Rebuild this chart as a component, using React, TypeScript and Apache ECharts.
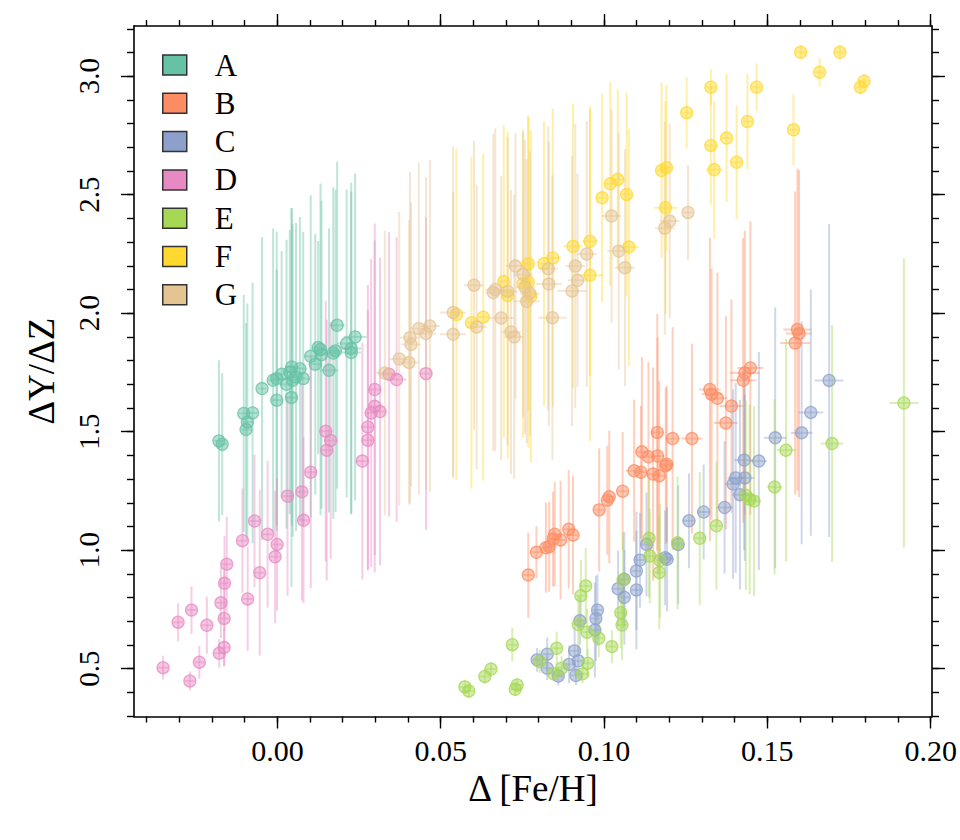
import React, { useEffect, useRef } from "react";
import * as echarts from "echarts";

// ---------- data: [x, y, xerr, yerr] ----------
const GROUPS = ["A", "B", "C", "D", "E", "F", "G"];
const COLORS = ["#66c2a5", "#fc8d62", "#8da0cb", "#e78ac3", "#a6d854", "#ffd92f", "#e5c494"];

const groupA = [
  [-0.0179, 1.461, 0.0015, 0.34], [-0.0169, 1.447, 0.0015, 0.30], [-0.0103, 1.577, 0.0015, 0.50],
  [-0.0076, 1.579, 0.0015, 0.55], [-0.0092, 1.541, 0.0015, 0.50], [-0.0096, 1.509, 0.0015, 0.45],
  [-0.0047, 1.682, 0.0012, 0.64], [-0.0013, 1.717, 0.0015, 0.64], [-0.0002, 1.724, 0.0015, 0.62],
  [-0.0002, 1.633, 0.0015, 0.55], [0.0013, 1.742, 0.0015, 0.52], [0.0028, 1.700, 0.002, 0.61],
  [0.0038, 1.752, 0.002, 0.60], [0.0043, 1.644, 0.002, 0.80], [0.0044, 1.773, 0.002, 0.67],
  [0.0047, 1.717, 0.002, 0.66], [0.0057, 1.731, 0.002, 0.65], [0.0069, 1.766, 0.002, 0.64],
  [0.0079, 1.724, 0.002, 0.62], [0.0102, 1.818, 0.002, 0.68], [0.0116, 1.785, 0.002, 0.55],
  [0.0125, 1.855, 0.002, 0.45], [0.0132, 1.847, 0.002, 0.70], [0.0135, 1.825, 0.002, 0.65],
  [0.0158, 1.759, 0.0028, 0.60], [0.0171, 1.832, 0.002, 0.70], [0.0178, 1.841, 0.002, 0.68],
  [0.0183, 1.949, 0.0023, 0.69], [0.0212, 1.872, 0.003, 0.65], [0.0226, 1.851, 0.003, 0.70],
  [0.0226, 1.834, 0.003, 0.68], [0.0238, 1.900, 0.0035, 0.69],
];

const groupB = [
  [0.0768, 0.895, 0.0015, 0.18], [0.0793, 0.991, 0.0015, 0.11], [0.0822, 1.010, 0.0015, 0.19],
  [0.0832, 1.014, 0.0015, 0.19], [0.0844, 1.047, 0.0015, 0.20], [0.0849, 1.067, 0.0015, 0.22],
  [0.0867, 1.043, 0.0015, 0.25], [0.0892, 1.088, 0.0015, 0.25], [0.0905, 1.064, 0.0015, 0.25],
  [0.0985, 1.170, 0.0015, 0.26], [0.1010, 1.211, 0.0015, 0.23], [0.1016, 1.225, 0.0015, 0.28],
  [0.1057, 1.249, 0.0015, 0.25], [0.1092, 1.335, 0.0025, 0.30], [0.1113, 1.329, 0.002, 0.28],
  [0.1116, 1.415, 0.002, 0.40], [0.1136, 1.394, 0.002, 0.40], [0.1150, 1.321, 0.002, 0.45],
  [0.1169, 1.314, 0.002, 0.40], [0.1164, 1.397, 0.002, 0.50], [0.1163, 1.497, 0.002, 0.50],
  [0.1189, 1.356, 0.002, 0.33], [0.1192, 1.363, 0.002, 0.33], [0.1210, 1.471, 0.0023, 0.47],
  [0.1269, 1.471, 0.0032, 0.40], [0.1324, 1.678, 0.0033, 0.64], [0.1329, 1.658, 0.003, 0.53],
  [0.1347, 1.641, 0.003, 0.53], [0.1390, 1.608, 0.0035, 0.45], [0.1373, 1.537, 0.0036, 0.45],
  [0.1426, 1.717, 0.004, 0.60], [0.1431, 1.748, 0.0046, 0.60], [0.1448, 1.769, 0.004, 0.62],
  [0.1585, 1.874, 0.0046, 0.64], [0.1592, 1.931, 0.0043, 0.68], [0.1597, 1.914, 0.004, 0.69],
];

const groupC = [
  [0.0795, 0.537, 0.0015, 0.05], [0.0826, 0.561, 0.0015, 0.07], [0.0826, 0.502, 0.0015, 0.05],
  [0.0860, 0.469, 0.0015, 0.04], [0.0893, 0.518, 0.0015, 0.08], [0.0910, 0.575, 0.0015, 0.10],
  [0.0921, 0.533, 0.0015, 0.06], [0.0914, 0.471, 0.0015, 0.04], [0.0926, 0.702, 0.0015, 0.10],
  [0.0972, 0.663, 0.0015, 0.20], [0.0975, 0.712, 0.0015, 0.18], [0.0980, 0.747, 0.0015, 0.15],
  [0.1043, 0.837, 0.0015, 0.16], [0.1062, 0.877, 0.0015, 0.20], [0.1062, 0.801, 0.0015, 0.20],
  [0.1099, 0.912, 0.0015, 0.25], [0.1099, 0.832, 0.0015, 0.25], [0.1110, 0.958, 0.0015, 0.20],
  [0.1130, 1.024, 0.0015, 0.22], [0.1187, 0.968, 0.002, 0.20], [0.1193, 0.962, 0.002, 0.22],
  [0.1227, 1.024, 0.002, 0.25], [0.1260, 1.124, 0.002, 0.20], [0.1305, 1.161, 0.002, 0.20],
  [0.1369, 1.180, 0.0025, 0.28], [0.1395, 1.279, 0.0025, 0.40], [0.1403, 1.305, 0.0025, 0.40],
  [0.1431, 1.305, 0.003, 0.35], [0.1416, 1.234, 0.0025, 0.40], [0.1429, 1.380, 0.003, 0.38],
  [0.1474, 1.376, 0.0025, 0.46], [0.1524, 1.474, 0.0035, 0.55], [0.1605, 1.495, 0.0033, 0.47],
  [0.1633, 1.581, 0.0038, 0.52], [0.1689, 1.716, 0.0044, 0.66],
];

const groupD = [
  [-0.0350, 0.504, 0.0015, 0.05], [-0.0268, 0.448, 0.0015, 0.04], [-0.0304, 0.696, 0.0015, 0.08],
  [-0.0263, 0.747, 0.0015, 0.10], [-0.0239, 0.527, 0.0015, 0.07], [-0.0216, 0.683, 0.0015, 0.12],
  [-0.0178, 0.565, 0.0015, 0.06], [-0.0163, 0.589, 0.0015, 0.08], [-0.0163, 0.712, 0.0015, 0.20],
  [-0.0173, 0.778, 0.0015, 0.15], [-0.0162, 0.860, 0.0015, 0.20], [-0.0155, 0.941, 0.0015, 0.20],
  [-0.0091, 0.794, 0.0015, 0.22], [-0.0107, 1.040, 0.0015, 0.22], [-0.0070, 1.123, 0.0015, 0.28],
  [-0.0054, 0.905, 0.0015, 0.35], [-0.0030, 1.067, 0.0015, 0.31], [-0.0001, 1.024, 0.0015, 0.28],
  [-0.0007, 0.972, 0.0015, 0.28], [0.0031, 1.228, 0.0015, 0.42], [0.0075, 1.246, 0.0015, 0.46],
  [0.0080, 1.126, 0.0015, 0.35], [0.0102, 1.329, 0.0015, 0.49], [0.0148, 1.502, 0.002, 0.55],
  [0.0163, 1.463, 0.002, 0.50], [0.0151, 1.422, 0.002, 0.55], [0.0260, 1.376, 0.002, 0.50],
  [0.0277, 1.464, 0.002, 0.55], [0.0277, 1.520, 0.002, 0.60], [0.0287, 1.579, 0.002, 0.65],
  [0.0298, 1.607, 0.002, 0.70], [0.0314, 1.585, 0.002, 0.65], [0.0298, 1.678, 0.002, 0.70],
  [0.0365, 1.720, 0.003, 0.60], [0.0342, 1.742, 0.003, 0.60], [0.0455, 1.745, 0.002, 0.66],
];

const groupE = [
  [0.0574, 0.423, 0.0015, 0.03], [0.0586, 0.406, 0.0015, 0.03], [0.0635, 0.467, 0.0015, 0.03],
  [0.0654, 0.498, 0.0015, 0.03], [0.0719, 0.601, 0.0015, 0.07], [0.0728, 0.413, 0.0015, 0.03],
  [0.0734, 0.431, 0.0015, 0.03], [0.0803, 0.530, 0.0015, 0.05], [0.0855, 0.586, 0.0015, 0.07],
  [0.0846, 0.478, 0.0015, 0.03], [0.0870, 0.502, 0.0015, 0.05], [0.0934, 0.478, 0.0015, 0.04],
  [0.0950, 0.523, 0.0015, 0.06], [0.0921, 0.686, 0.0015, 0.12], [0.0948, 0.654, 0.0015, 0.10],
  [0.0984, 0.628, 0.0015, 0.08], [0.0929, 0.808, 0.0015, 0.15], [0.0944, 0.849, 0.0015, 0.16],
  [0.1024, 0.593, 0.0015, 0.07], [0.1051, 0.736, 0.0015, 0.15], [0.1055, 0.684, 0.0015, 0.15],
  [0.1058, 0.874, 0.0015, 0.20], [0.1138, 1.050, 0.0015, 0.25], [0.1140, 0.975, 0.0015, 0.20],
  [0.1169, 0.906, 0.0015, 0.24], [0.1171, 0.956, 0.0015, 0.24], [0.1225, 1.031, 0.0015, 0.28],
  [0.1293, 1.050, 0.0015, 0.28], [0.1344, 1.103, 0.0015, 0.27], [0.1434, 1.232, 0.002, 0.40],
  [0.1446, 1.215, 0.002, 0.40], [0.1459, 1.207, 0.002, 0.40], [0.1522, 1.267, 0.0023, 0.37],
  [0.1557, 1.422, 0.0028, 0.47], [0.1698, 1.450, 0.0034, 0.50], [0.1918, 1.621, 0.0045, 0.61],
];

const groupF = [
  [0.0548, 1.995, 0.0011, 0.70], [0.0594, 1.960, 0.0012, 0.70], [0.0630, 1.983, 0.0015, 0.69],
  [0.0693, 2.134, 0.0015, 0.66], [0.0705, 2.075, 0.0015, 0.69], [0.0752, 2.125, 0.0015, 0.65],
  [0.0768, 2.209, 0.0015, 0.62], [0.0768, 2.132, 0.0015, 0.70], [0.0776, 2.071, 0.0015, 0.70],
  [0.0816, 2.209, 0.0015, 0.60], [0.0843, 2.233, 0.0025, 0.63], [0.0905, 2.282, 0.0029, 0.60],
  [0.0957, 2.304, 0.0025, 0.57], [0.0957, 2.160, 0.004, 0.70], [0.0994, 2.487, 0.0015, 0.44],
  [0.1019, 2.546, 0.0015, 0.43], [0.1042, 2.564, 0.0015, 0.38], [0.1069, 2.501, 0.0015, 0.43],
  [0.1076, 2.279, 0.003, 0.50], [0.1176, 2.602, 0.0015, 0.37], [0.1191, 2.614, 0.0015, 0.35],
  [0.1188, 2.445, 0.0036, 0.45], [0.1253, 2.846, 0.0015, 0.15], [0.1327, 2.954, 0.0015, 0.075],
  [0.1467, 2.954, 0.0015, 0.10], [0.1327, 2.708, 0.002, 0.25], [0.1337, 2.605, 0.0025, 0.29],
  [0.1375, 2.739, 0.0015, 0.27], [0.1406, 2.637, 0.002, 0.24], [0.1439, 2.809, 0.0015, 0.20],
  [0.1580, 2.774, 0.0015, 0.15], [0.1602, 3.101, 0.0015, 0.03], [0.1722, 3.101, 0.0015, 0.03],
  [0.1660, 3.017, 0.0015, 0.06], [0.1785, 2.954, 0.0015, 0.03], [0.1796, 2.979, 0.0015, 0.03],
];

const groupG = [
  [0.0329, 1.748, 0.003, 0.60], [0.0373, 1.807, 0.003, 0.62], [0.0403, 1.792, 0.003, 0.60],
  [0.0406, 1.897, 0.003, 0.70], [0.0409, 1.868, 0.003, 0.60], [0.0433, 1.935, 0.003, 0.70],
  [0.0455, 1.914, 0.003, 0.66], [0.0467, 1.946, 0.003, 0.70], [0.0538, 2.003, 0.004, 0.70],
  [0.0538, 1.911, 0.004, 0.60], [0.0602, 2.118, 0.003, 0.61], [0.0610, 1.942, 0.003, 0.60],
  [0.0661, 2.087, 0.0025, 0.67], [0.0667, 2.100, 0.003, 0.68], [0.0685, 1.980, 0.004, 0.60],
  [0.0705, 2.092, 0.003, 0.65], [0.0715, 1.921, 0.003, 0.60], [0.0725, 1.900, 0.003, 0.60],
  [0.0729, 2.199, 0.003, 0.56], [0.0752, 2.163, 0.003, 0.60], [0.0758, 2.110, 0.003, 0.62],
  [0.0773, 2.083, 0.003, 0.60], [0.0763, 2.050, 0.004, 0.60], [0.0829, 2.188, 0.003, 0.60],
  [0.0831, 2.123, 0.004, 0.60], [0.0842, 1.981, 0.0043, 0.60], [0.0902, 2.094, 0.0045, 0.57],
  [0.0912, 2.199, 0.003, 0.60], [0.0919, 2.139, 0.003, 0.45], [0.0947, 2.250, 0.003, 0.56],
  [0.1023, 2.410, 0.003, 0.45], [0.1045, 2.262, 0.0035, 0.50], [0.1064, 2.192, 0.003, 0.50],
  [0.1201, 2.389, 0.003, 0.41], [0.1186, 2.359, 0.003, 0.45], [0.1257, 2.425, 0.0015, 0.20],
];

const GROUP_DATA = [groupA, groupB, groupC, groupD, groupE, groupF, groupG];

// ---------- axes ----------
const X_MIN = -0.0439;
const X_MAX = 0.2004;
const Y_MIN = 0.298;
const Y_MAX = 3.212;
const X_MAJOR = [0.0, 0.05, 0.1, 0.15, 0.2];
const X_MINOR = [-0.04, -0.03, -0.02, -0.01, 0.0, 0.01, 0.02, 0.03, 0.04, 0.05, 0.06, 0.07, 0.08,
  0.09, 0.1, 0.11, 0.12, 0.13, 0.14, 0.15, 0.16, 0.17, 0.18, 0.19, 0.2];
const Y_MAJOR = [0.5, 1.0, 1.5, 2.0, 2.5, 3.0];
const Y_MINOR = [0.3, 0.4, 0.5, 0.6, 0.7, 0.8, 0.9, 1.0, 1.1, 1.2, 1.3, 1.4, 1.5, 1.6, 1.7, 1.8,
  1.9, 2.0, 2.1, 2.2, 2.3, 2.4, 2.5, 2.6, 2.7, 2.8, 2.9, 3.0, 3.1, 3.2];

const FONT = "'Liberation Serif', 'Times New Roman', Times, serif";

function rgba(hex: string, a: number) {
  const n = parseInt(hex.slice(1), 16);
  return `rgba(${(n >> 16) & 255},${(n >> 8) & 255},${n & 255},${a})`;
}

function makeAxis(kind: "x" | "y", position: string, major: boolean, showLine: boolean, extra: any = {}) {
  const isX = kind === "x";
  return {
    type: "value",
    position,
    min: isX ? X_MIN : Y_MIN,
    max: isX ? X_MAX : Y_MAX,
    axisLine: { show: showLine, onZero: false, lineStyle: { color: "#000", width: 1.6 } },
    axisTick: {
      show: true,
      inside: false,
      length: major ? (isX ? 12 : 13) : isX ? 6 : 7,
      customValues: major ? (isX ? X_MAJOR : Y_MAJOR) : isX ? X_MINOR : Y_MINOR,
      lineStyle: { color: "#000", width: 1.4 },
    },
    axisLabel: { show: false },
    splitLine: { show: false },
    ...extra,
  };
}

export default function App() {
  const ref = useRef<HTMLDivElement>(null);

  useEffect(() => {
    if (!ref.current) return;
    const chart = echarts.init(ref.current, undefined, { renderer: "svg" });

    const series: any[] = [];
    GROUPS.forEach((g, i) => {
      const col = COLORS[i];
      series.push({
        name: g,
        type: "custom",
        xAxisIndex: 0,
        yAxisIndex: 0,
        clip: true,
        silent: true,
        encode: { x: 0, y: 1 },
        data: GROUP_DATA[i],
        renderItem: (params: any, api: any) => {
          const x = api.value(0);
          const y = api.value(1);
          const ex = api.value(2);
          const ey = api.value(3);
          const a = api.coord([x, y - ey]);
          const b = api.coord([x, y + ey]);
          const c = api.coord([x - ex, y]);
          const d = api.coord([x + ex, y]);
          const style = { stroke: rgba(col, 0.42), lineWidth: 2 };
          return {
            type: "group",
            children: [
              { type: "line", shape: { x1: a[0], y1: a[1], x2: b[0], y2: b[1] }, style },
              { type: "line", shape: { x1: c[0], y1: c[1], x2: d[0], y2: d[1] }, style },
            ],
          };
        },
      });
      series.push({
        name: g,
        type: "scatter",
        xAxisIndex: 0,
        yAxisIndex: 0,
        symbol: "circle",
        symbolSize: 12,
        data: GROUP_DATA[i].map((p) => [p[0], p[1]]),
        itemStyle: { color: rgba(col, 0.6), borderColor: rgba(col, 0.95), borderWidth: 1.3 },
        emphasis: { disabled: true },
      });
    });

    chart.setOption({
      animation: false,
      backgroundColor: "#ffffff",
      grid: { left: 134, top: 26, width: 798, height: 690.5, containLabel: false },
      legend: {
        orient: "vertical",
        left: 162,
        top: 49.5,
        padding: 0,
        itemWidth: 24,
        itemHeight: 20,
        itemGap: 7.3,
        icon: "rect",
        selectedMode: false,
        data: GROUPS.map((g, i) => ({
          name: g,
          itemStyle: { color: COLORS[i], borderColor: "#333", borderWidth: 1.5, opacity: 1 },
        })),
        textStyle: { fontSize: 31, fontFamily: FONT, color: "#000", padding: [0, 0, 0, 23] },
      },
      xAxis: [
        makeAxis("x", "bottom", true, true, {
          axisLabel: {
            show: true,
            customValues: X_MAJOR,
            formatter: (v: number) => v.toFixed(2),
            fontSize: 30,
            fontFamily: FONT,
            color: "#000",
            margin: 19,
          },
          name: "Δ [Fe/H]",
          nameLocation: "middle",
          nameGap: 52,
          nameTextStyle: { fontSize: 37, fontFamily: FONT, color: "#000" },
        }),
        makeAxis("x", "bottom", false, false),
        makeAxis("x", "top", true, true),
        makeAxis("x", "top", false, false),
      ],
      yAxis: [
        makeAxis("y", "left", true, true, {
          axisLabel: {
            show: true,
            customValues: Y_MAJOR,
            formatter: (v: number) => v.toFixed(1),
            fontSize: 29,
            fontFamily: FONT,
            color: "#000",
            rotate: 90,
            margin: 31,
          },
          name: "ΔY/ΔZ",
          nameLocation: "middle",
          nameRotate: 90,
          nameGap: 74,
          nameTextStyle: { fontSize: 37, fontFamily: FONT, color: "#000" },
        }),
        makeAxis("y", "left", false, false),
        makeAxis("y", "right", true, true),
        makeAxis("y", "right", false, false),
      ],
      series,
    });

    return () => chart.dispose();
  }, []);

  return (
    <div
      ref={ref}
      style={{ position: "fixed", left: 0, top: 0, width: 960, height: 840, background: "#fff" }}
    />
  );
}
